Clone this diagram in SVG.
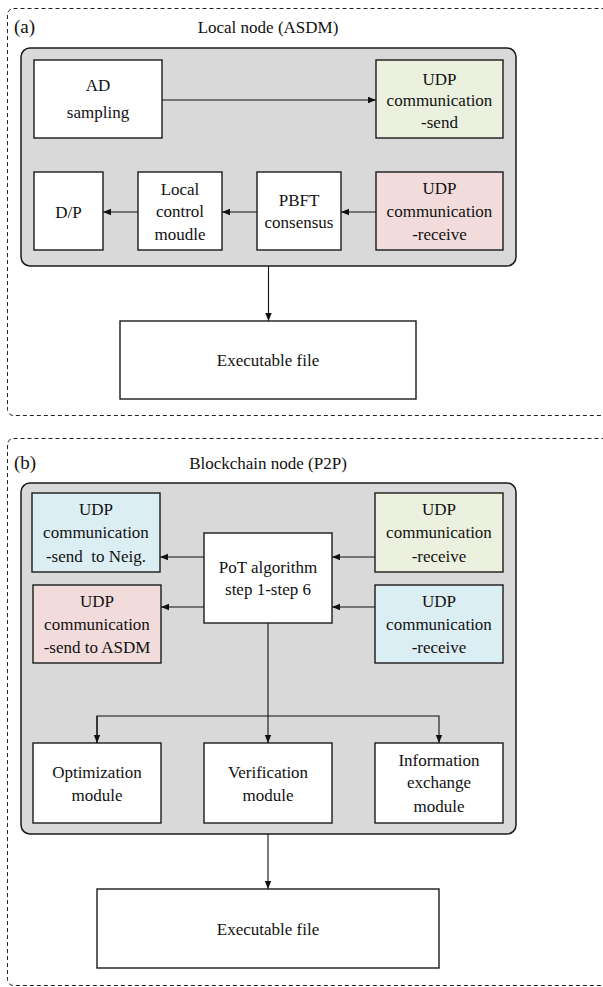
<svg xmlns="http://www.w3.org/2000/svg" width="603" height="987" viewBox="0 0 603 987">
<style>
text{font-size:17px;fill:#111;text-anchor:middle}
.lbl{text-anchor:start;font-size:19px}
.frame{fill:none;stroke:#222;stroke-width:1;stroke-dasharray:4,3}
.panel{fill:#d9d9d9;stroke:#1a1a1a;stroke-width:1.5}
.box{fill:#fff;stroke:#1a1a1a;stroke-width:1.4}
.g{fill:#ebf1de}.r{fill:#f2dcdb}.b{fill:#dbeef4}
.c{fill:none;stroke:#111;stroke-width:1.1}
</style>
<defs>
<marker id="ah" markerUnits="userSpaceOnUse" markerWidth="8" markerHeight="8" viewBox="0 0 8 8" refX="8" refY="4" orient="auto">
<path d="M0,0.8 L8,4 L0,7.2 Z" fill="#111"/>
</marker>
</defs>
<g font-family="Liberation Serif, Times New Roman, serif">
<rect class="frame" x="7.5" y="8.5" width="610" height="407" rx="6"/>
<text class="lbl" x="14" y="33">(a)</text>
<text x="268" y="33">Local node (ASDM)</text>
<rect class="panel" x="21" y="48" width="495" height="218" rx="9"/>

<rect class="frame" x="7.5" y="438.5" width="610" height="547" rx="6"/>
<text class="lbl" x="14" y="469">(b)</text>
<text x="268" y="469">Blockchain node (P2P)</text>
<rect class="panel" x="21" y="483" width="495" height="351" rx="9"/>

<g id="connectors">
<line class="c" x1="162" y1="100" x2="376" y2="100" marker-end="url(#ah)"/>
<line class="c" x1="376" y1="212" x2="341" y2="212" marker-end="url(#ah)"/>
<line class="c" x1="257" y1="212" x2="222" y2="212" marker-end="url(#ah)"/>
<line class="c" x1="138" y1="212" x2="103" y2="212" marker-end="url(#ah)"/>
<line class="c" x1="268.5" y1="266" x2="268.5" y2="321" marker-end="url(#ah)"/>
<line class="c" x1="204" y1="557" x2="160" y2="557" marker-end="url(#ah)"/>
<line class="c" x1="204" y1="607" x2="161" y2="607" marker-end="url(#ah)"/>
<line class="c" x1="375" y1="557" x2="332" y2="557" marker-end="url(#ah)"/>
<line class="c" x1="375" y1="607" x2="332" y2="607" marker-end="url(#ah)"/>
<line class="c" x1="268" y1="623" x2="268" y2="743" marker-end="url(#ah)"/>
<polyline class="c" points="97,743 97,716 439,716 439,743" marker-end="url(#ah)"/>
<line class="c" x1="97" y1="716" x2="97" y2="743" marker-end="url(#ah)"/>
<line class="c" x1="268" y1="834" x2="268" y2="889" marker-end="url(#ah)"/>
</g>

<g id="ad-sampling"><rect class="box" x="34" y="60" width="128" height="78"/>
<text x="98" y="91">AD</text><text x="98" y="118">sampling</text></g>
<g id="udp-send-a"><rect class="box g" x="376" y="60" width="127" height="78"/>
<text x="439.5" y="85">UDP</text><text x="439.5" y="106">communication</text><text x="439.5" y="128">-send</text></g>
<g id="dp"><rect class="box" x="34" y="172" width="69" height="78"/>
<text x="68.5" y="218">D/P</text></g>
<g id="local-control"><rect class="box" x="138" y="172" width="84" height="78"/>
<text x="180" y="195">Local</text><text x="180" y="217">control</text><text x="180" y="240">moudle</text></g>
<g id="pbft"><rect class="box" x="257" y="172" width="84" height="78"/>
<text x="299" y="206">PBFT</text><text x="299" y="228">consensus</text></g>
<g id="udp-receive-a"><rect class="box r" x="376" y="172" width="127" height="78"/>
<text x="439.5" y="194">UDP</text><text x="439.5" y="217">communication</text><text x="439.5" y="240">-receive</text></g>
<g id="exec-a"><rect class="box" x="120" y="321" width="296" height="78"/>
<text x="268" y="366">Executable file</text></g>

<g id="udp-send-neig"><rect class="box b" x="32" y="493" width="128" height="79"/>
<text x="96" y="515">UDP</text><text x="96" y="538">communication</text><text x="96" y="562" xml:space="preserve">-send  to Neig.</text></g>
<g id="udp-send-asdm"><rect class="box r" x="33" y="585" width="128" height="78"/>
<text x="97" y="607">UDP</text><text x="97" y="630">communication</text><text x="97" y="653">-send to ASDM</text></g>
<g id="pot"><rect class="box" x="204" y="533" width="128" height="90"/>
<text x="268" y="573">PoT algorithm</text><text x="268" y="595">step 1-step 6</text></g>
<g id="udp-receive-g"><rect class="box g" x="375" y="493" width="128" height="79"/>
<text x="439" y="515">UDP</text><text x="439" y="538">communication</text><text x="439" y="562">-receive</text></g>
<g id="udp-receive-b"><rect class="box b" x="375" y="585" width="128" height="78"/>
<text x="439" y="607">UDP</text><text x="439" y="630">communication</text><text x="439" y="653">-receive</text></g>
<g id="optimization"><rect class="box" x="33" y="743" width="128" height="80"/>
<text x="97" y="778">Optimization</text><text x="97" y="801">module</text></g>
<g id="verification"><rect class="box" x="204" y="743" width="128" height="80"/>
<text x="268" y="778">Verification</text><text x="268" y="801">module</text></g>
<g id="info-exchange"><rect class="box" x="375" y="743" width="128" height="80"/>
<text x="439" y="766">Information</text><text x="439" y="788">exchange</text><text x="439" y="812">module</text></g>
<g id="exec-b"><rect class="box" x="97" y="889" width="342" height="79"/>
<text x="268" y="935">Executable file</text></g>
</g>
</svg>
